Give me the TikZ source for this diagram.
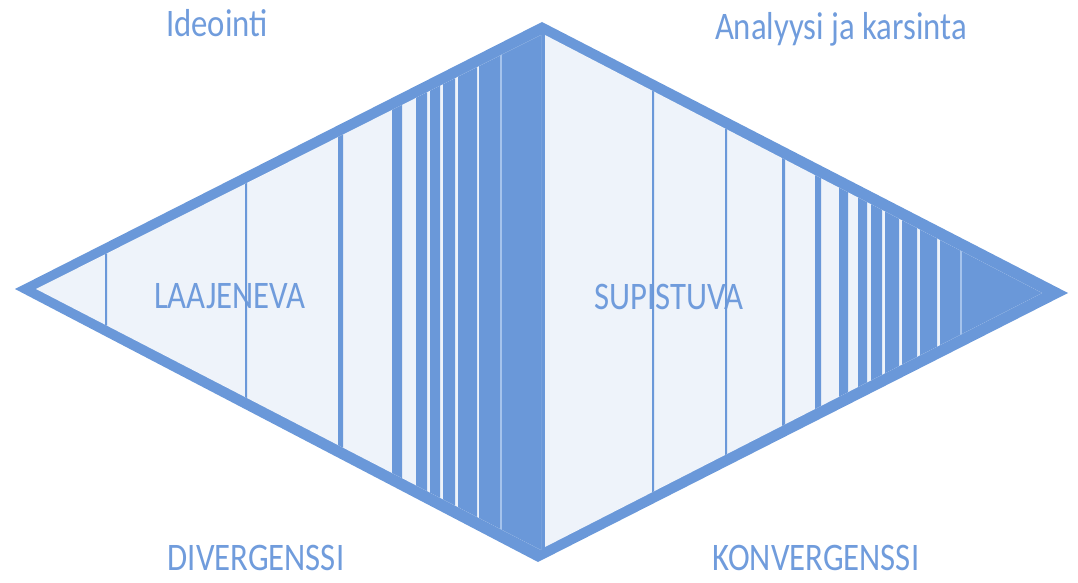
\documentclass[tikz,border=0pt]{standalone}
\usepackage{fontspec}
\setmainfont{Carlito}[FakeStretch=0.84]
\usepackage{tikz}
\definecolor{bandblue}{RGB}{106,152,217}
\definecolor{paleblue}{RGB}{238,243,250}
\definecolor{labelblue}{RGB}{112,156,220}
\definecolor{faintblue}{RGB}{165,195,236}

\begin{document}
\begin{tikzpicture}[x=0.5pt, y=-0.5pt,
  lbl/.style={anchor=base, text=labelblue, inner sep=0pt, font=\fontsize{19.5}{21}\selectfont}]
\useasboundingbox (0,0) rectangle (1078,583);

\fill[bandblue] (15,289) -- (542,22) -- (1068,293) -- (538,562) -- cycle;
\fill[paleblue] (36,289) -- (541,35) -- (541,550) -- cycle;
\fill[paleblue] (545,35) -- (1042,293) -- (545,547) -- cycle;

\node[lbl] (ideo) at (217,37) {Ideointi};
\node[lbl] (anal) at (841,40) {Analyysi ja karsinta};
\node[lbl] (laaj) at (230,308) {LAAJENEVA};
\node[lbl] (supi) at (669,309) {SUPISTUVA};
\node[lbl] (div) at (256,570) {DIVERGENSSI};
\node[lbl] (conv) at (816,570) {KONVERGENSSI};

\begin{scope}
\clip (36,289) -- (541,35) -- (541,550) -- cycle;
\fill[bandblue]
	(105,0) rectangle (107,583)
	(245,0) rectangle (247,583)
	(338,0) rectangle (343,583)
	(392,0) rectangle (402,583)
	(416,0) rectangle (427,583)
	(430,0) rectangle (440,583)
	(443,0) rectangle (455,583)
	(458,0) rectangle (477,583)
	(479,0) rectangle (545,583)
;
\fill[faintblue] (500,0) rectangle (501.5,583);
\end{scope}

\begin{scope}
\clip (545,35) -- (1042,293) -- (545,547) -- cycle;
\fill[bandblue]
	(652,0) rectangle (654,583)
	(725,0) rectangle (727,583)
	(782,0) rectangle (785,583)
	(815,0) rectangle (821,583)
	(839,0) rectangle (848,583)
	(858,0) rectangle (867,583)
	(871,0) rectangle (882,583)
	(885,0) rectangle (899,583)
	(902,0) rectangle (917,583)
	(920,0) rectangle (937,583)
	(940,0) rectangle (1070,583)
;
\fill[faintblue] (959.5,0) rectangle (961.5,583);
\end{scope}
\end{tikzpicture}
\end{document}
